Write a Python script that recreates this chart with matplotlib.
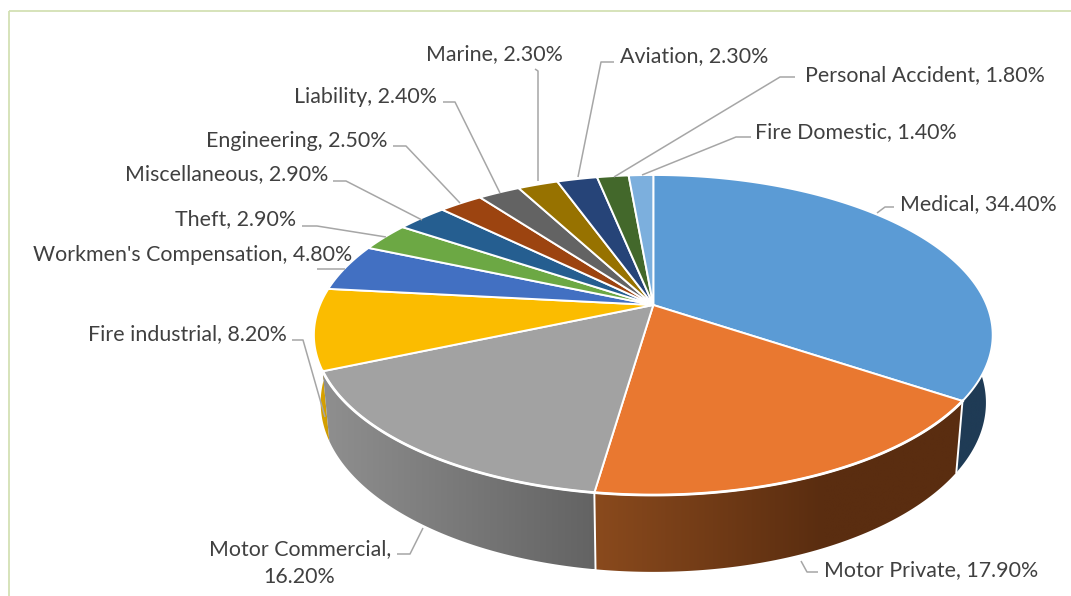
import numpy as np
import matplotlib
matplotlib.use("Agg")
import matplotlib.pyplot as plt
from matplotlib.patches import Polygon, Rectangle
from matplotlib.colors import to_rgb

# ---- data ----
categories = ["Medical", "Motor Private", "Motor Commercial", "Fire industrial",
              "Workmen's Compensation", "Theft", "Miscellaneous", "Engineering",
              "Liability", "Marine", "Aviation", "Personal Accident", "Fire Domestic"]
values = [34.4, 17.9, 16.2, 8.2, 4.8, 2.9, 2.9, 2.5, 2.4, 2.3, 2.3, 1.8, 1.4]
colors = ["#5B9BD5", "#E97830", "#A2A2A2", "#FBBC00", "#4270C2", "#6CA844",
          "#255E90", "#9C4410", "#636363", "#977200", "#264478", "#43682B", "#7CAFDD"]

# side shading: (colour at the left of the slice, colour at the right, share of width to reach it)
side_shade = {"Medical": ("#1F3B55", "#1F3B55", 1.0),
              "Motor Private": ("#8A4A1D", "#5A2D10", 0.62),
              "Motor Commercial": ("#8F8F8F", "#636363", 1.0),
              "Fire industrial": ("#E0A800", "#C89600", 1.0)}

# label layout: text anchor, text align, leader path (pixels)
layout = {
    "Medical": (900, 204, "left", [(877, 213), (885, 207), (894, 207)]),
    "Motor Private": (824, 570, "left", [(801, 561), (807, 572), (818, 572)]),
    "Motor Commercial": (391, 549, "right", [(423, 528), (410, 554), (397, 554)]),
    "Fire industrial": (287, 334, "right", [(325, 417), (303, 340), (292, 340)]),
    "Workmen's Compensation": (352, 255, "right", [(345, 269), (317, 269)]),
    "Theft": (296, 219, "right", [(386, 237), (317, 226), (302, 226)]),
    "Miscellaneous": (328, 174, "right", [(422, 220), (346, 181), (333, 181)]),
    "Engineering": (387, 141, "right", [(460, 203), (406, 146), (393, 146)]),
    "Liability": (437, 97, "right", [(500, 193), (455, 102), (443, 102)]),
    "Marine": (563, 54, "right", [(538, 181), (538, 71), (535, 69)]),
    "Aviation": (620, 56, "left", [(578, 177), (601, 62), (614, 62)]),
    "Personal Accident": (805, 75, "left", [(614, 177), (780, 77), (795, 77)]),
    "Fire Domestic": (755, 132, "left", [(642, 175), (736, 137), (751, 137)]),
}

# ---- projection of the tilted disc ----
CX, CY = 653.3, 305.0
RX, RY, K, DEPTH, SHRINK = 333.4, 154.4, 0.1875, 63.5, 0.98


def top(a):
    X, Y = np.sin(a), np.cos(a)
    w = 1 + K * Y
    return CX + RX * X / w, CY - RY * Y / w


def bottom(a):
    X, Y = np.sin(a), np.cos(a)
    w = 1 + K * Y
    return CX + SHRINK * RX * X / w, CY + (-RY * Y * SHRINK + DEPTH) / w + 2.5


plt.rcParams["font.family"] = ["Lato", "DejaVu Sans"]
fig = plt.figure(figsize=(10.71, 5.96), dpi=100)
ax = fig.add_axes([0, 0, 1, 1])

# chart frame
ax.add_patch(Rectangle((9, 11), 1070, 600, fill=False, ec="#D3E0B4", lw=1.3, zorder=0))

edges = 2 * np.pi * np.concatenate([[0], np.cumsum(values)]) / sum(values)

# side wall: a horizontal gradient clipped to each slice's wall
for i, name in enumerate(categories):
    if name not in side_shade:
        continue
    start = np.pi * 0.30 if name == "Medical" else edges[i]
    aa = np.linspace(start, edges[i + 1], 200)
    tx, ty = top(aa)
    bx, by = bottom(aa)
    outline = np.column_stack([np.r_[tx, bx[::-1]], np.r_[ty, by[::-1]]])
    lo, hi = outline[:, 0].min(), outline[:, 0].max()
    cl, cr, reach = side_shade[name]
    cl, cr = np.array(to_rgb(cl)), np.array(to_rgb(cr))
    f = np.clip(np.linspace(0, 1, 256) / reach, 0, 1)
    grad = (cl[None, :] + (cr - cl)[None, :] * f[:, None])[None, :, :]
    clip = Polygon(outline, closed=True, transform=ax.transData, fc="none", ec="none")
    ax.add_patch(clip)
    im = ax.imshow(grad, extent=(lo, hi, outline[:, 1].max(), outline[:, 1].min()),
                   aspect="auto", zorder=2 + (0 if name == "Fire industrial" else 0.5),
                   interpolation="bilinear")
    im.set_clip_path(clip)

# white seams on the wall
for i, name in enumerate(categories):
    a = edges[i + 1]
    if name in ("Medical", "Motor Private"):
        tx, ty = top(a)
        bx, by = bottom(a)
        ax.plot([tx, bx], [ty, by], color="white", lw=1.4, zorder=3)

# top faces
for i in range(len(values)):
    aa = np.linspace(edges[i], edges[i + 1], 120)
    x, y = top(aa)
    pts = np.column_stack([np.r_[CX, x], np.r_[CY, y]])
    ax.add_patch(Polygon(pts, closed=True, fc=colors[i], ec="white", lw=1.4,
                         joinstyle="round", zorder=4))
    if categories[i] in ("Motor Private", "Motor Commercial"):
        ax.plot(x, y, color="white", lw=2.0, zorder=4.5)

# labels with leader lines
for name, val in zip(categories, values):
    tx, ty, ha, path = layout[name]
    p = np.array(path)
    ax.plot(p[:, 0], p[:, 1], color="#A6A6A6", lw=1.1, zorder=5, solid_capstyle="butt")
    if name == "Motor Commercial":
        ax.text(tx, ty, f"{name},", ha="right", va="center", fontsize=15.4, color="#404040", zorder=6)
        ax.text(299, 577, f"{val:.2f}%", ha="center", va="center", fontsize=15.4, color="#404040", zorder=6)
    else:
        ax.text(tx, ty, f"{name}, {val:.2f}%", ha=ha, va="center", fontsize=15.4,
                color="#404040", zorder=6)

ax.set_xlim(0, 1071)
ax.set_ylim(596, 0)
ax.axis("off")
fig.savefig("out.png", dpi=100, facecolor="white")
